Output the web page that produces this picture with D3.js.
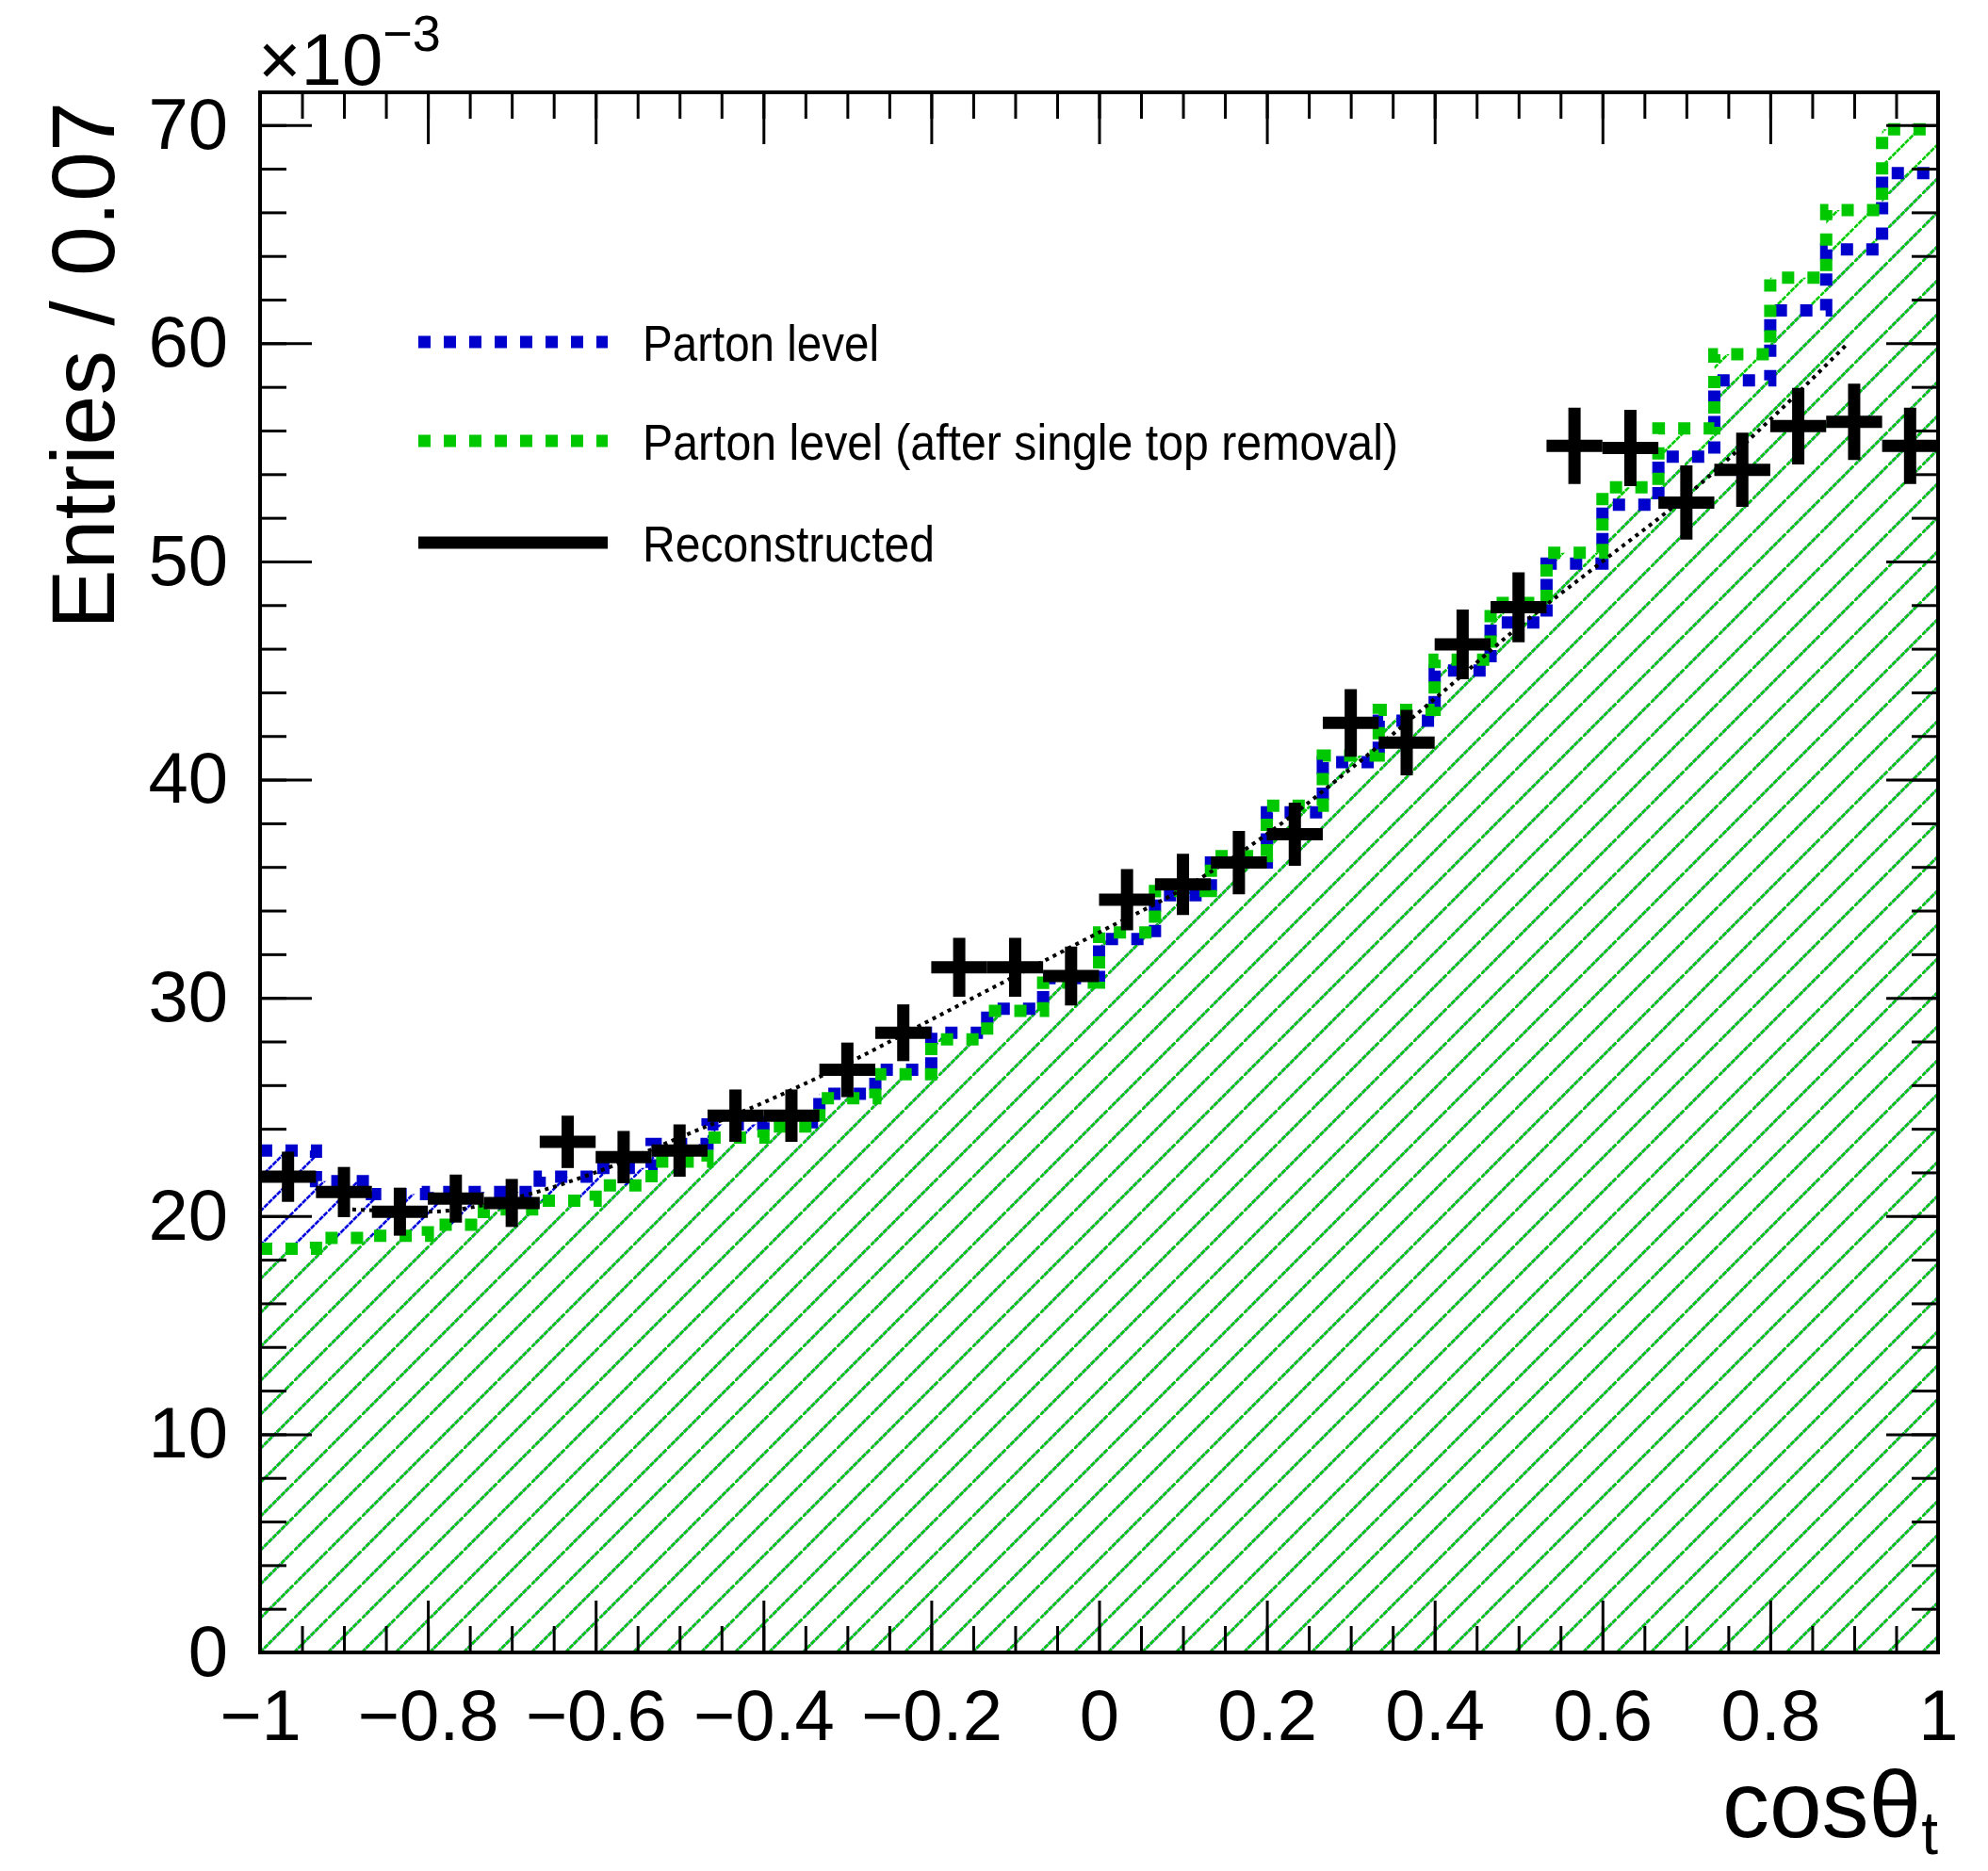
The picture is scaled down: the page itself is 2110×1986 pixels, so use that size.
<!DOCTYPE html>
<html>
<head>
<meta charset="utf-8">
<title>cos theta_t</title>
<script src="https://d3js.org/d3.v7.min.js"></script>
<style>
body { margin: 0; background: #fff; }
text { font-family: "Liberation Sans", Arial, Helvetica, sans-serif; fill: #000; }
</style>
</head>
<body>
<svg id="chart"></svg>
<script>
// axis setup
const xTicks = [-1, -0.8, -0.6, -0.4, -0.2, 0, 0.2, 0.4, 0.6, 0.8, 1];
const yTicks = [0, 10, 20, 30, 40, 50, 60, 70];
const nBins = 30;

// histograms, units of 1e-3 (30 bins from -1 to 1)
const partonLevel = [23.0, 21.6, 21.0, 21.1, 21.1, 21.8, 22.2, 23.3, 24.2, 24.3,
  25.6, 26.7, 28.4, 29.5, 30.9, 32.7, 34.7, 36.2, 38.5, 40.8,
  42.7, 45.0, 47.2, 49.9, 52.6, 54.8, 58.3, 61.5, 64.3, 67.8];
const partonNoSingleTop = [18.5, 19.0, 19.1, 19.6, 20.3, 20.7, 21.4, 22.5, 23.6, 24.1,
  25.4, 26.5, 28.1, 29.4, 30.7, 33.0, 34.9, 36.5, 38.8, 41.1,
  43.2, 45.5, 48.1, 50.4, 53.4, 56.1, 59.5, 63.0, 66.1, 69.8];
const reconstructed = [21.8, 21.1, 20.2, 20.8, 20.6, 23.4, 22.7, 23.0, 24.6, 24.6,
  26.7, 28.4, 31.4, 31.4, 31.0, 34.5, 35.2, 36.2, 37.5, 42.6,
  41.7, 46.2, 47.9, 55.3, 55.2, 52.7, 54.2, 56.2, 56.4, 55.3];
const reconstructedErr = [1.15, 1.15, 1.1, 1.1, 1.1, 1.2, 1.2, 1.2, 1.2, 1.2,
  1.25, 1.3, 1.35, 1.35, 1.35, 1.4, 1.4, 1.45, 1.45, 1.55,
  1.5, 1.6, 1.6, 1.75, 1.75, 1.7, 1.7, 1.75, 1.75, 1.75];

// thin black dotted curve
const curveX = [-0.89, -0.8, -0.7, -0.6, -0.5, -0.4, -0.3, -0.2, -0.1, 0.0,
  0.1, 0.2, 0.3, 0.4, 0.5, 0.6, 0.7, 0.8, 0.89];
const curveY = [20.3, 20.2, 20.8, 22.0, 23.6, 25.2, 27.0, 29.0, 31.0, 33.0,
  35.0, 37.5, 40.5, 43.7, 47.0, 50.0, 53.0, 56.5, 59.9];

const legendEntries = [
  { label: "Parton level", color: "#0000cc", dotted: true, len: 251 },
  { label: "Parton level (after single top removal)", color: "#00c800", dotted: true, len: 802 },
  { label: "Reconstructed", color: "#000", dotted: false, len: 310 }
];

const W = 2110, H = 1986;
const margin = { top: 98, right: 53, bottom: 232, left: 276 };
const width = W - margin.left - margin.right;
const height = H - margin.top - margin.bottom;

const svg = d3.select("#chart").attr("width", W).attr("height", H);
svg.append("rect").attr("width", W).attr("height", H).attr("fill", "#fff");

const defs = svg.append("defs");
defs.append("clipPath").attr("id", "plotclip")
  .append("rect").attr("width", width).attr("height", height);

function hatch(id, color) {
  const s = 36;
  const p = defs.append("pattern").attr("id", id)
    .attr("patternUnits", "userSpaceOnUse")
    .attr("width", s).attr("height", s);
  p.append("path")
    .attr("d", `M0,${s} L${s},0`)
    .attr("stroke", color)
    .attr("stroke-width", 2.6)
    .attr("stroke-dasharray", "5.4 0.96");
}
hatch("hatchBlue", "#0000dd");
hatch("hatchGreen", "#00cc00");

const g = svg.append("g").attr("transform", `translate(${margin.left},${margin.top})`);

const x = d3.scaleLinear().domain([-1, 1]).range([0, width]);
const y = d3.scaleLinear().domain([0, 71.5]).range([height, 0]);

const edges = d3.range(nBins + 1).map(i => -1 + 2 * i / nBins);

function stepPoints(vals) {
  const pts = vals.map((v, i) => [edges[i], v]);
  pts.push([edges[nBins], vals[nBins - 1]]);
  return pts;
}

const area = d3.area().curve(d3.curveStepAfter)
  .x(d => x(d[0])).y0(y(0)).y1(d => y(d[1]));
const line = d3.line().curve(d3.curveStepAfter)
  .x(d => x(d[0])).y(d => y(d[1]));

const plot = g.append("g").attr("clip-path", "url(#plotclip)");

// hatched fills
plot.append("path").datum(stepPoints(partonLevel))
  .attr("d", area).attr("fill", "url(#hatchBlue)");
plot.append("path").datum(stepPoints(partonNoSingleTop))
  .attr("d", area).attr("fill", "url(#hatchGreen)");

// dotted outlines
plot.append("path").datum(stepPoints(partonLevel))
  .attr("d", line).attr("fill", "none")
  .attr("stroke", "#0000cc").attr("stroke-width", 13)
  .attr("stroke-dasharray", "13 14");
plot.append("path").datum(stepPoints(partonNoSingleTop))
  .attr("d", line).attr("fill", "none")
  .attr("stroke", "#00c800").attr("stroke-width", 13)
  .attr("stroke-dasharray", "13 14");

// black dotted curve
plot.append("path").datum(curveX.map((v, i) => [v, curveY[i]]))
  .attr("d", d3.line().curve(d3.curveMonotoneX).x(d => x(d[0])).y(d => y(d[1])))
  .attr("fill", "none").attr("stroke", "#000")
  .attr("stroke-width", 4).attr("stroke-dasharray", "4 5");

// reconstructed crosses
const pts = plot.append("g").selectAll("g").data(reconstructed).join("g");
pts.append("line")
  .attr("x1", (d, i) => x(edges[i])).attr("x2", (d, i) => x(edges[i + 1]))
  .attr("y1", d => y(d)).attr("y2", d => y(d))
  .attr("stroke", "#000").attr("stroke-width", 13);
pts.append("line")
  .attr("x1", (d, i) => x((edges[i] + edges[i + 1]) / 2))
  .attr("x2", (d, i) => x((edges[i] + edges[i + 1]) / 2))
  .attr("y1", (d, i) => y(d - reconstructedErr[i]))
  .attr("y2", (d, i) => y(d + reconstructedErr[i]))
  .attr("stroke", "#000").attr("stroke-width", 13);

// axes, ticks inside on all sides
const xMinor = d3.range(-1, 1.0001, 0.05);
const yMinor = d3.range(0, 71.5, 2);
const fmt = d3.format("~g");

function styleAxis(sel) {
  sel.select(".domain").remove();
  sel.selectAll("line").attr("stroke", "#000").attr("stroke-width", 3);
  sel.selectAll("text").attr("font-size", 76).attr("fill", "#000")
    .attr("font-family", '"Liberation Sans", Arial, Helvetica, sans-serif');
}

g.append("g").attr("transform", `translate(0,${height})`)
  .call(d3.axisBottom(x).tickValues(xMinor).tickSize(-28).tickFormat(""))
  .call(styleAxis);
g.append("g").attr("transform", `translate(0,${height})`)
  .call(d3.axisBottom(x).tickValues(xTicks).tickSize(-55).tickPadding(39).tickFormat(fmt))
  .call(styleAxis);
g.append("g")
  .call(d3.axisTop(x).tickValues(xMinor).tickSize(-28).tickFormat(""))
  .call(styleAxis);
g.append("g")
  .call(d3.axisTop(x).tickValues(xTicks).tickSize(-55).tickFormat(""))
  .call(styleAxis);

g.append("g")
  .call(d3.axisLeft(y).tickValues(yMinor).tickSize(-28).tickFormat(""))
  .call(styleAxis);
g.append("g")
  .call(d3.axisLeft(y).tickValues(yTicks).tickSize(-55).tickPadding(34).tickFormat(fmt))
  .call(styleAxis);
g.append("g").attr("transform", `translate(${width},0)`)
  .call(d3.axisRight(y).tickValues(yMinor).tickSize(-28).tickFormat(""))
  .call(styleAxis);
g.append("g").attr("transform", `translate(${width},0)`)
  .call(d3.axisRight(y).tickValues(yTicks).tickSize(-55).tickFormat(""))
  .call(styleAxis);

// frame
g.append("rect").attr("width", width).attr("height", height)
  .attr("fill", "none").attr("stroke", "#000").attr("stroke-width", 4);

// exponent
const expo = svg.append("text").attr("x", margin.left - 2).attr("y", 90).attr("font-size", 78);
expo.append("tspan").text("\u00d710");
expo.append("tspan").attr("font-size", 54).attr("dy", -36).text("\u22123");

// axis titles
svg.append("text")
  .attr("transform", `translate(121,${margin.top + 10}) rotate(-90)`)
  .attr("text-anchor", "end").attr("font-size", 95)
  .text("Entries / 0.07");

const xt = svg.append("text").attr("x", 2057).attr("y", 1950)
  .attr("text-anchor", "end").attr("font-size", 100);
xt.append("tspan").text("cos\u03b8");
xt.append("tspan").attr("font-size", 64).attr("dy", 18).text("t");

// legend
const legY = [363, 468, 576];
const leg = svg.append("g");
legendEntries.forEach((e, i) => {
  leg.append("line")
    .attr("x1", 444).attr("x2", 645)
    .attr("y1", legY[i]).attr("y2", legY[i])
    .attr("stroke", e.color).attr("stroke-width", 13)
    .attr("stroke-dasharray", e.dotted ? "13 14" : null);
  leg.append("text")
    .attr("x", 682).attr("y", legY[i] + 20)
    .attr("font-size", 53)
    .attr("textLength", e.len).attr("lengthAdjust", "spacingAndGlyphs")
    .text(e.label);
});
</script>
</body>
</html>
